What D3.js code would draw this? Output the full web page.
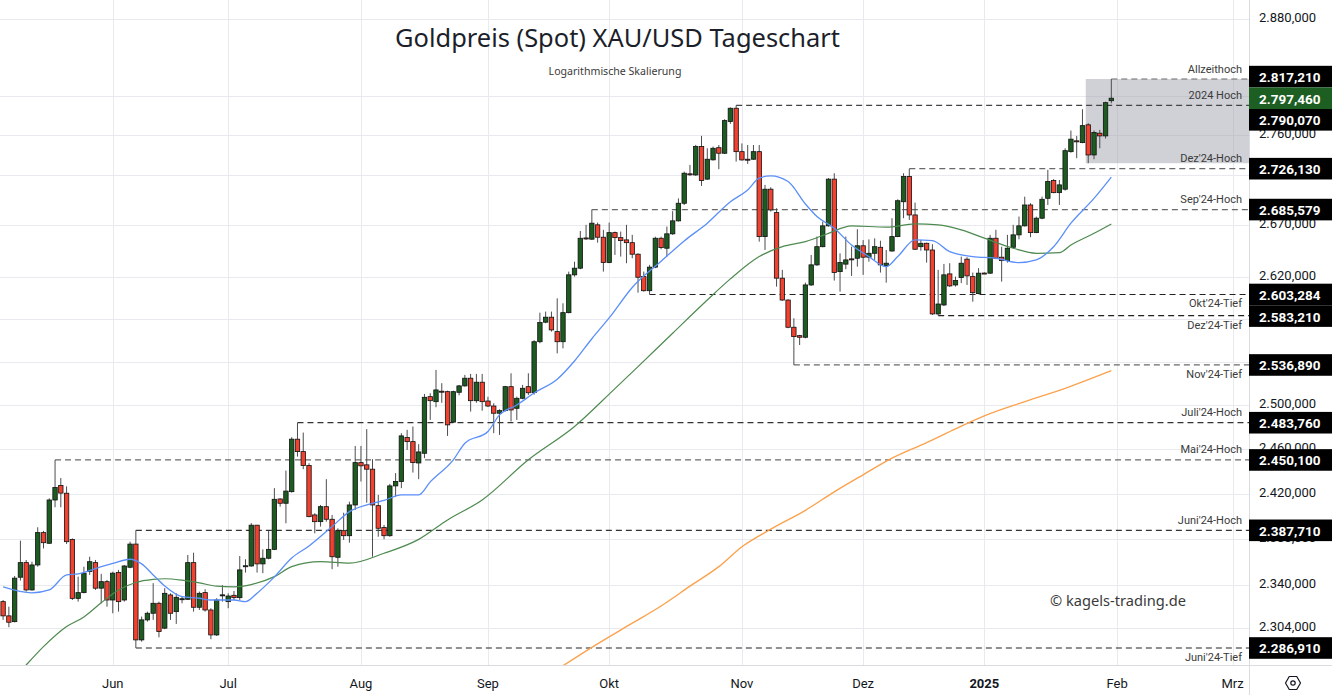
<!DOCTYPE html>
<html><head><meta charset="utf-8">
<script src="https://cdn.jsdelivr.net/npm/d3@7"></script>
<style>html,body{margin:0;padding:0;background:#fff;overflow:hidden}svg{display:block}</style>
</head><body><svg id="c" width="1332" height="695"></svg>
<script>
// ---------- DATA ----------
const opens=[2326.1,2314.0,2309.1,2347.0,2359.6,2336.1,2357.6,2385.7,2376.4,2414.4,2427.3,2420.4,2379.7,2328.9,2333.8,2351.9,2359.6,2337.6,2343.2,2327.5,2351.0,2327.5,2355.6,2375.7,2293.7,2310.6,2316.2,2324.7,2303.6,2331.8,2317.6,2328.4,2328.1,2359.6,2321.3,2333.8,2319.0,2297.9,2331.8,2326.1,2331.5,2329.5,2356.7,2356.7,2392.2,2358.5,2363.4,2371.1,2415.3,2411.5,2421.8,2468.8,2457.6,2445.1,2401.2,2395.3,2408.5,2397.4,2364.2,2387.4,2383.0,2410.0,2447.7,2445.7,2441.8,2409.4,2390.1,2383.0,2426.9,2430.8,2470.3,2466.6,2447.4,2456.1,2507.6,2503.0,2512.6,2512.2,2484.3,2511.6,2517.5,2524.6,2503.9,2520.9,2503.6,2499.0,2492.4,2494.8,2516.8,2496.9,2506.1,2516.8,2511.3,2558.6,2577.0,2581.7,2568.1,2558.6,2586.0,2622.1,2628.5,2657.8,2656.6,2670.6,2658.5,2633.9,2663.0,2658.1,2655.9,2653.2,2642.0,2620.4,2606.9,2629.5,2657.5,2647.8,2661.8,2674.5,2691.8,2721.0,2719.9,2748.3,2715.7,2735.0,2747.2,2741.6,2773.6,2787.2,2743.2,2735.6,2735.6,2743.2,2659.1,2705.7,2682.6,2618.9,2598.0,2572.2,2564.3,2562.8,2612.4,2631.7,2649.3,2669.6,2715.7,2625.2,2632.4,2637.5,2638.1,2650.2,2639.1,2642.9,2648.7,2631.0,2645.1,2659.1,2693.3,2718.3,2680.3,2649.3,2652.6,2646.1,2584.8,2593.3,2623.0,2612.4,2619.5,2637.2,2620.4,2604.1,2623.8,2623.7,2657.5,2639.1,2635.8,2648.7,2660.8,2669.6,2690.1,2663.0,2677.1,2696.7,2714.3,2702.3,2705.7,2743.2,2754.1,2752.3,2770.3,2739.9,2761.8,2759.1,2794.9];
const highs=[2327.5,2321.8,2348.1,2378.7,2361.9,2360.4,2390.4,2387.2,2415.9,2450.1,2433.9,2426.5,2380.6,2347.5,2356.1,2364.7,2361.9,2349.9,2344.7,2351.8,2353.3,2357.6,2377.8,2387.71,2313.4,2317.6,2341.9,2326.1,2337.6,2333.2,2333.2,2330.3,2366.2,2368.2,2334.7,2336.7,2320.5,2329.0,2340.2,2333.2,2335.2,2365.3,2362.5,2394.0,2392.4,2371.1,2387.2,2424.9,2415.9,2440.6,2470.6,2483.76,2474.8,2447.2,2402.7,2410.0,2432.9,2401.2,2389.5,2403.2,2412.9,2462.7,2462.7,2477.9,2450.8,2418.9,2392.4,2428.7,2438.3,2474.2,2477.3,2480.3,2464.3,2510.1,2510.7,2532.3,2520.0,2513.1,2513.1,2518.4,2527.7,2528.6,2528.6,2528.6,2507.5,2501.5,2496.0,2517.5,2529.2,2507.6,2518.4,2529.2,2560.0,2586.0,2587.0,2587.0,2599.6,2594.9,2625.2,2634.8,2664.6,2670.6,2685.58,2672.8,2665.7,2672.8,2664.0,2664.0,2670.6,2660.8,2642.9,2625.2,2631.7,2659.0,2659.0,2668.9,2684.0,2696.6,2723.2,2729.9,2750.0,2759.1,2746.6,2748.3,2749.9,2776.0,2788.0,2790.07,2751.5,2749.9,2749.9,2749.9,2710.0,2707.6,2686.9,2626.9,2598.7,2580.7,2565.0,2614.6,2641.3,2659.1,2673.8,2716.7,2721.6,2642.9,2659.1,2649.3,2666.3,2655.7,2656.4,2657.4,2655.1,2646.1,2677.1,2695.7,2721.6,2726.13,2692.4,2655.9,2653.2,2651.7,2626.9,2632.6,2633.3,2620.4,2639.7,2639.1,2624.3,2628.5,2624.5,2660.8,2665.7,2649.3,2660.8,2670.6,2678.7,2698.3,2691.8,2678.7,2698.3,2725.0,2715.7,2714.9,2746.6,2764.5,2759.1,2786.2,2772.0,2764.5,2765.2,2793.9,2817.21];
const lows=[2310.6,2304.4,2308.5,2344.1,2334.7,2335.5,2356.1,2371.9,2375.8,2408.0,2408.0,2375.8,2327.5,2326.1,2333.2,2349.0,2336.1,2324.7,2321.8,2316.2,2317.6,2326.1,2354.8,2286.91,2292.2,2309.1,2310.6,2295.9,2302.7,2310.6,2307.2,2324.7,2327.5,2317.6,2319.0,2317.6,2294.3,2297.0,2326.1,2320.5,2327.5,2327.5,2351.0,2356.1,2351.0,2350.5,2362.5,2370.5,2408.5,2393.9,2420.9,2453.1,2441.8,2399.2,2385.1,2391.0,2395.3,2353.9,2356.1,2379.3,2376.9,2405.6,2430.8,2412.0,2364.7,2382.1,2379.9,2382.1,2417.4,2424.9,2459.1,2438.8,2432.9,2451.7,2486.3,2497.9,2502.0,2471.8,2483.7,2508.8,2516.8,2493.9,2502.0,2494.7,2498.0,2474.3,2472.7,2493.9,2484.9,2486.3,2505.2,2509.1,2509.5,2557.1,2576.0,2568.1,2547.7,2552.4,2585.4,2620.4,2627.5,2655.9,2655.9,2653.2,2625.2,2633.3,2641.3,2639.7,2633.3,2638.1,2605.0,2606.0,2603.28,2628.5,2646.8,2639.7,2660.8,2673.8,2690.1,2718.9,2718.9,2709.0,2715.0,2734.2,2725.6,2740.9,2771.3,2733.2,2734.2,2730.9,2734.9,2654.2,2646.1,2683.6,2610.8,2597.3,2571.3,2536.89,2555.5,2561.8,2611.5,2630.7,2648.7,2668.9,2616.6,2606.0,2627.5,2621.1,2630.0,2622.1,2634.8,2636.5,2624.3,2614.6,2644.5,2658.5,2677.1,2675.4,2646.1,2645.4,2633.9,2583.8,2583.21,2592.3,2610.5,2610.8,2614.1,2612.4,2596.4,2603.5,2623.0,2623.0,2637.2,2615.6,2633.9,2647.8,2656.5,2668.9,2658.5,2662.4,2676.1,2690.1,2701.7,2690.1,2704.3,2742.2,2736.6,2751.7,2731.6,2735.6,2746.6,2756.4,2792.3];
const closes=[2314.0,2308.6,2346.2,2359.6,2336.1,2357.6,2385.7,2376.9,2414.4,2425.4,2420.5,2377.8,2328.9,2333.8,2350.5,2360.4,2337.6,2343.2,2327.5,2350.5,2326.1,2356.7,2375.7,2293.7,2310.6,2316.2,2324.7,2300.7,2333.2,2316.2,2329.8,2328.6,2359.6,2321.3,2333.2,2319.0,2297.9,2327.5,2331.9,2330.9,2329.5,2353.3,2356.9,2392.2,2358.5,2363.4,2371.1,2415.0,2411.5,2422.3,2468.8,2457.6,2445.1,2399.7,2395.3,2408.5,2397.4,2364.7,2387.4,2383.0,2410.0,2447.7,2444.8,2441.8,2410.0,2389.5,2383.0,2426.9,2430.8,2471.8,2466.6,2447.7,2457.3,2507.0,2503.9,2513.8,2512.4,2481.8,2512.2,2517.5,2524.6,2503.9,2520.9,2503.0,2499.0,2492.4,2494.8,2516.8,2495.4,2506.1,2515.3,2511.2,2558.6,2576.6,2581.7,2569.7,2558.6,2586.0,2622.1,2628.5,2657.5,2657.3,2672.2,2658.5,2633.9,2663.0,2658.1,2655.2,2653.2,2642.0,2619.8,2606.9,2629.5,2657.5,2648.4,2661.8,2674.5,2691.8,2721.6,2720.9,2748.3,2714.3,2735.6,2746.6,2741.6,2774.6,2787.2,2743.2,2734.9,2735.4,2743.2,2659.1,2705.7,2685.2,2618.9,2598.0,2572.2,2563.4,2562.8,2612.4,2631.7,2649.3,2669.6,2715.7,2624.3,2633.9,2636.5,2637.2,2650.2,2639.1,2642.9,2649.3,2631.7,2633.3,2659.1,2694.3,2718.3,2680.3,2646.8,2652.6,2646.1,2584.8,2594.2,2622.1,2611.5,2616.6,2633.3,2621.1,2605.0,2623.7,2623.6,2657.5,2638.1,2635.8,2647.8,2660.8,2669.6,2690.1,2663.0,2677.1,2695.7,2713.3,2702.3,2710.0,2744.2,2755.8,2753.9,2769.5,2739.9,2762.5,2759.1,2792.9,2797.46];

const sma20Idx=[0,5,8,11,13,17,19,22,24,26,28,31,34,36,40,42,44,47,50,53,57,60,64,66,69,72,74,78,80,84,86,89,92,96,99,102,105,109,114,118,122,126,129,131,133,136,139,141,144,147,150,153,155,158,161,164,168,172,176,179,182,185,189,192];
const sma20Val=[2338.7,2333.6,2336.1,2349.0,2349.9,2356.1,2358.9,2362.5,2358.5,2349.0,2339.5,2330.3,2329.0,2327.5,2327.5,2326.1,2333.3,2347.3,2363.6,2374.0,2391.0,2404.1,2411.5,2414.0,2418.9,2418.9,2430.5,2450.2,2465.2,2475.8,2490.9,2499.9,2511.0,2523.7,2540.6,2561.4,2581.0,2610.0,2635.2,2654.9,2672.2,2693.3,2705.0,2716.7,2719.0,2713.3,2691.1,2678.7,2667.3,2650.9,2639.7,2630.0,2639.7,2655.9,2655.2,2644.5,2639.7,2638.1,2633.9,2636.5,2649.3,2672.2,2696.6,2717.7];
const sma50Idx=[2,4,7,11,14,17,20,23,26,28,31,34,37,40,43,47,50,55,60,66,72,77,83,91,99,106,110,116,122,126,131,135,139,143,147,153,158,162,166,170,175,179,183,185,189,192];
const sma50Val=[2262,2272.7,2288.0,2304.9,2313.1,2325.2,2336.1,2342.5,2345.1,2345.7,2344.5,2342.2,2339.3,2338.8,2340.7,2347.5,2356.1,2360.4,2359.1,2367.7,2379.8,2396.8,2414.4,2450.2,2480.3,2515.0,2535.3,2566.6,2598.0,2618.2,2639.7,2649.3,2654.2,2662.3,2669.6,2668.3,2671.5,2670.6,2665.7,2657.6,2647.8,2642.9,2643.5,2650.9,2662.3,2671.5];
const sma200Idx=[96,102,109,114,119,124,128,133,139,144,149,154,160,165,170,177,184,192];
const sma200Val=[2269,2287.5,2307.8,2322.4,2339.3,2356.1,2373.4,2388.7,2405.3,2421.6,2436.8,2451.7,2465.7,2478.2,2490.0,2503.0,2515.3,2531.6];

const monthLabels=["Jun","Jul","Aug","Sep","Okt","Nov","Dez","2025","Feb","Mrz"];
const monthIdx=[19,39,62,84,105,128,149,170,193,213];
const yTicks=[2880,2800,2760,2720,2670,2620,2580,2540,2500,2460,2420,2380,2340,2304];

const levelNames=["Allzeithoch","2024 Hoch","Dez'24-Hoch","Sep'24-Hoch","Okt'24-Tief","Dez'24-Tief","Nov'24-Tief","Juli'24-Hoch","Mai'24-Hoch","Juni'24-Hoch","Juni'24-Tief"];
const levelValues=[2817.21,2790.07,2726.13,2685.579,2603.284,2583.21,2536.89,2483.76,2450.10,2387.71,2286.91];
const levelStart=[192,127,157,102,112,162,137,51,9,23,23];
const levelTone=["#6a6a6a","#444","#6a6a6a","#6a6a6a","#222","#222","#6a6a6a","#333","#6a6a6a","#333","#222"];
const lastClose=2797.46;
const rangeLow=2731.6, rangeHigh=2817.21, rangeStart=188;

const titleText="Goldpreis (Spot) XAU/USD Tageschart";
const subtitleText="Logarithmische Skalierung";
const watermark="© kagels-trading.de";

// ---------- LAYOUT ----------
const W=1332,H=695,plotR=1249,plotB=665;
const svg=d3.select("#c");
const x=d3.scaleLinear().domain([0,213]).range([3.1,3.1+5.772*213]);
const y=d3.scaleLog().domain([2272.7,2900]).range([plotB,0]);
const loc=d3.formatLocale({decimal:",",thousands:".",grouping:[3],currency:["",""]});
const fmt=loc.format(",.3f");
const FONT="Roboto, 'Noto Sans', sans-serif";

svg.append("defs").append("clipPath").attr("id","plot").append("rect").attr("x",0).attr("y",0).attr("width",plotR).attr("height",plotB);

// grid
const grid=svg.append("g");
grid.selectAll("line.h").data(yTicks).join("line")
  .attr("x1",0).attr("x2",plotR).attr("y1",d=>Math.round(y(d))+0.5).attr("y2",d=>Math.round(y(d))+0.5)
  .attr("stroke","#e9eaef").attr("stroke-width",1);
grid.selectAll("line.v").data(monthIdx).join("line")
  .attr("x1",d=>Math.round(x(d))+0.5).attr("x2",d=>Math.round(x(d))+0.5).attr("y1",0).attr("y2",plotB)
  .attr("stroke","#e9eaef").attr("stroke-width",1);

const plot=svg.append("g").attr("clip-path","url(#plot)");

// range box
plot.append("rect").attr("x",x(rangeStart)-2.5).attr("y",y(rangeHigh)).attr("width",plotR-(x(rangeStart)-2.5))
  .attr("height",y(rangeLow)-y(rangeHigh)).attr("fill","rgb(150,152,165)").attr("fill-opacity",0.45);

// level lines
const lv=d3.range(levelNames.length);
plot.selectAll("line.lvl").data(lv).join("line")
  .attr("x1",i=>x(levelStart[i])).attr("x2",plotR).attr("y1",i=>y(levelValues[i])).attr("y2",i=>y(levelValues[i]))
  .attr("stroke",i=>levelTone[i]).attr("stroke-width",1.2).attr("stroke-dasharray","6,4");

// candles
const n=opens.length, bw=4.4;
const cg=plot.append("g");
cg.selectAll("line.wick").data(d3.range(n)).join("line")
  .attr("x1",i=>x(i)).attr("x2",i=>x(i)).attr("y1",i=>y(highs[i])).attr("y2",i=>y(lows[i]))
  .attr("stroke","#4d4d4d").attr("stroke-width",1);
cg.selectAll("rect.body").data(d3.range(n)).join("rect")
  .attr("x",i=>x(i)-bw/2).attr("width",bw)
  .attr("y",i=>Math.min(y(opens[i]),y(closes[i])))
  .attr("height",i=>Math.max(1,Math.abs(y(opens[i])-y(closes[i]))))
  .attr("fill",i=>closes[i]>=opens[i]?"#1c5c20":"#f2412f")
  .attr("stroke","#111").attr("stroke-width",0.8);

// moving averages
function maLine(idx,val,color,w){
  const pts=idx.map((d,k)=>[x(d),y(val[k])]);
  plot.append("path").attr("d",d3.line().curve(d3.curveMonotoneX)(pts))
   .attr("fill","none").attr("stroke",color).attr("stroke-width",w);
}
maLine(sma200Idx,sma200Val,"#fba24e",1.4);
maLine(sma50Idx,sma50Val,"#4e8a4f",1.2);
maLine(sma20Idx,sma20Val,"#5b8ff9",1.3);

// level annotation texts
svg.selectAll("text.lvl").data(lv).join("text")
  .attr("x",1242).attr("y",i=>y(levelValues[i])+(levelNames[i].endsWith("Tief")?9.5:-10))
  .attr("text-anchor","end").attr("dominant-baseline","central")
  .attr("font-family",FONT).attr("font-size",11).attr("fill","#3a3a3a").text(i=>levelNames[i]);

// axes frame
svg.append("line").attr("x1",plotR+0.5).attr("x2",plotR+0.5).attr("y1",0).attr("y2",H).attr("stroke","#d9dbe1");
svg.append("line").attr("x1",0).attr("x2",W).attr("y1",plotB+0.5).attr("y2",plotB+0.5).attr("stroke","#d9dbe1");

// price label boxes with overlap avoidance (last close fixed)
const boxes=levelValues.map((v,i)=>({v,fixed:false,color:"#000"}));
boxes.push({v:lastClose,fixed:true,color:"#1d5f22"});
boxes.forEach(b=>b.pos=y(b.v));
boxes.sort((a,b)=>a.pos-b.pos);
const bh=21.6, ai=boxes.findIndex(b=>b.fixed);
for(let k=ai-1;k>=0;k--) boxes[k].pos=Math.min(boxes[k].pos,boxes[k+1].pos-bh);
for(let k=ai+1;k<boxes.length;k++) boxes[k].pos=Math.max(boxes[k].pos,boxes[k-1].pos+bh);

// y tick labels (those completely hidden behind a price box are skipped)
const visibleTicks=yTicks.filter(d=>boxes.every(b=>Math.abs((y(d)-1.5)-b.pos)>=6));
svg.selectAll("text.yt").data(visibleTicks).join("text")
  .attr("x",1259).attr("y",d=>y(d)-1.5).attr("dominant-baseline","central")
  .attr("font-family",FONT).attr("font-size",13).attr("fill","#131722").text(d=>fmt(d));

const bg=svg.append("g");
bg.selectAll("rect").data(boxes).join("rect")
  .attr("x",plotR).attr("width",W-plotR).attr("y",b=>b.pos-bh/2).attr("height",bh).attr("fill",b=>b.color);
bg.selectAll("text").data(boxes).join("text")
  .attr("x",1259).attr("y",b=>b.pos+0.5).attr("dominant-baseline","central")
  .attr("font-family",FONT).attr("font-size",13.5).attr("font-weight",700).attr("fill","#fff").text(b=>fmt(b.v));

// x labels
svg.selectAll("text.xt").data(monthIdx).join("text")
  .attr("x",d=>x(d)).attr("y",683).attr("text-anchor","middle").attr("dominant-baseline","central")
  .attr("font-family",FONT).attr("font-size",13).attr("font-weight",(d,k)=>monthLabels[k]==="2025"?700:400)
  .attr("fill","#131722").text((d,k)=>monthLabels[k]);

// gear icon
const gx=1293,gy=683,gr=7.5;
svg.append("path").attr("d",d3.line()(d3.range(6).map(k=>[gx+gr*Math.cos(Math.PI/3*k),gy+gr*Math.sin(Math.PI/3*k)]))+"Z")
  .attr("fill","none").attr("stroke","#131722").attr("stroke-width",1.2).attr("stroke-linejoin","round");
svg.append("circle").attr("cx",gx).attr("cy",gy).attr("r",2.2).attr("fill","none").attr("stroke","#131722").attr("stroke-width",1.2);

// title and subtitle
function fitText(sel,target){const L=sel.node().getComputedTextLength();const fs=parseFloat(sel.attr("font-size"));sel.attr("font-size",fs*target/L);}
const t=svg.append("text").attr("x",617.5).attr("y",47).attr("text-anchor","middle")
  .attr("font-family","'Noto Sans', sans-serif").attr("font-size",25).attr("fill","#1c1f2a").text(titleText);
fitText(t,445);
const st=svg.append("text").attr("x",615).attr("y",74.5).attr("text-anchor","middle")
  .attr("font-family","'Noto Sans', sans-serif").attr("font-size",11).attr("fill","#3a3a3a").text(subtitleText);
fitText(st,133);
const wm=svg.append("text").attr("x",1050).attr("y",600).attr("dominant-baseline","central")
  .attr("font-family","'Noto Sans', sans-serif").attr("font-size",15).attr("fill","#3a3a3a").text(watermark);
fitText(wm,136);
</script></body></html>
